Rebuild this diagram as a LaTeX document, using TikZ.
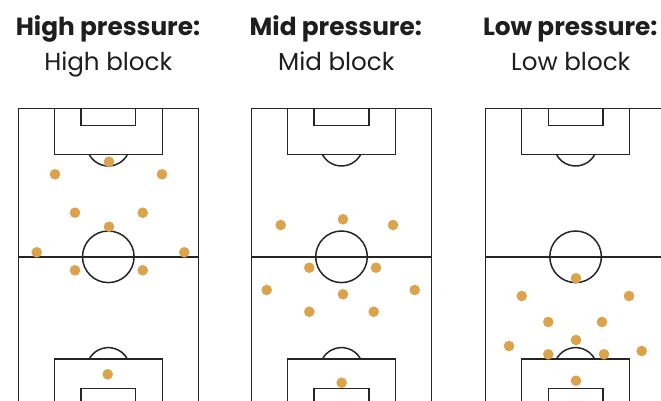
\documentclass[tikz,border=0pt]{standalone}
\usepackage{fontspec}
\setmainfont{Poppins}
\definecolor{dotgold}{HTML}{DBA44C}
\definecolor{pline}{HTML}{262626}
\definecolor{ptext}{HTML}{1E1E1E}
\tikzset{
  x=1pt,y=1pt,
  pline/.style={draw=pline,line width=1.5pt},
  player/.style={circle,fill=dotgold,inner sep=0pt,minimum size=10.6pt},
  titlebold/.style={anchor=base,text=ptext,font=\fontsize{24.8}{28}\selectfont\bfseries},
  titlereg/.style={anchor=base,text=ptext,font=\fontsize{24.6}{27}\selectfont},
  pitch/.pic={
    \draw[pline] (-90,0) rectangle (90,-297);
    \draw[pline] (-90,-148.5) -- (90,-148.5);
    \draw[pline] (0,-148.5) circle[radius=25.8];
    \draw[pline] (-54,0) rectangle (54,-46.2);
    \draw[pline] (-27.3,0) rectangle (27.3,-17);
    \draw[pline] (0,-36) ++(208:21.7) arc[start angle=208,end angle=332,radius=21.7];
    \draw[pline] (-54,-297) rectangle (54,-250.8);
    \draw[pline] (-27.3,-297) rectangle (27.3,-280);
    \draw[pline] (0,-261) ++(28:21.7) arc[start angle=28,end angle=152,radius=21.7];
  }
}
\begin{document}
\begin{tikzpicture}
\useasboundingbox (0,0) rectangle (661,-401);
\fill[white] (0,0) rectangle (661,-401);
\clip (0,0) rectangle (661,-401);

% titles
\node[titlebold] (t1a) at (108,-36) {High pressure:};
\node[titlereg]  (t1b) at (108.3,-71) {High block};
\node[titlebold] (t2a) at (335.8,-36) {Mid pressure:};
\node[titlereg]  (t2b) at (336.3,-71) {Mid block};
\node[titlebold] (t3a) at (570.3,-36) {Low pressure:};
\node[titlereg]  (t3b) at (570.8,-71) {Low block};

% pitches
\pic at (108.3,-108.3) {pitch};
\pic at (341.5,-108.3) {pitch};
\pic at (575.6,-108.3) {pitch};

% high block players
\node[player] (h1) at (109,-161.7) {};
\node[player] (h2) at (55,-174.3) {};
\node[player] (h3) at (162,-174.3) {};
\node[player] (h4) at (75,-212.7) {};
\node[player] (h5) at (142.7,-212.7) {};
\node[player] (h6) at (109,-226.7) {};
\node[player] (h7) at (36.7,-252.3) {};
\node[player] (h8) at (184.3,-252.3) {};
\node[player] (h9) at (75,-270.3) {};
\node[player] (h10) at (142.7,-270.3) {};
\node[player] (h11) at (107.7,-374.3) {};

% mid block players
\node[player] (m1) at (280.7,-225) {};
\node[player] (m2) at (343,-219.3) {};
\node[player] (m3) at (393,-225) {};
\node[player] (m4) at (309.3,-267.7) {};
\node[player] (m5) at (376,-267.7) {};
\node[player] (m6) at (266.7,-290) {};
\node[player] (m7) at (343,-294.3) {};
\node[player] (m8) at (414.7,-290) {};
\node[player] (m9) at (309.3,-311.7) {};
\node[player] (m10) at (373.7,-311.7) {};
\node[player] (m11) at (341.7,-382.7) {};

% low block players
\node[player] (l1) at (576,-278.3) {};
\node[player] (l2) at (521.7,-296) {};
\node[player] (l3) at (629,-296) {};
\node[player] (l4) at (548.3,-322) {};
\node[player] (l5) at (602,-322) {};
\node[player] (l6) at (576,-340) {};
\node[player] (l7) at (509,-346) {};
\node[player] (l8) at (548.3,-354.3) {};
\node[player] (l9) at (604,-354.3) {};
\node[player] (l10) at (641.7,-351) {};
\node[player] (l11) at (576,-380.7) {};
\end{tikzpicture}
\end{document}
